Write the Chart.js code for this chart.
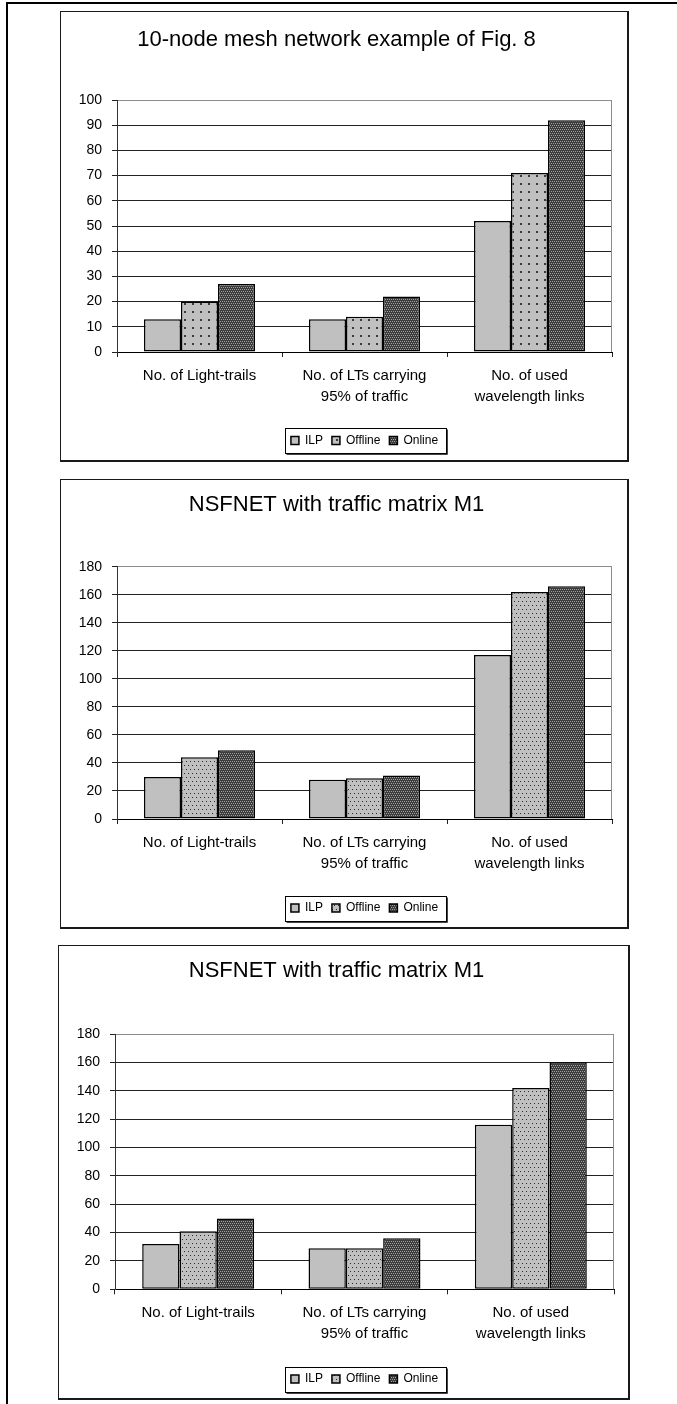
<!DOCTYPE html>
<html>
<head>
<meta charset="utf-8">
<script src="https://cdn.jsdelivr.net/npm/chart.js@4.4.1/dist/chart.umd.min.js"></script>
<style>
  html, body { margin: 0; padding: 0; background: #fff; }
  body { width: 677px; height: 1404px; position: relative; overflow: hidden; }
  .frame-top { position: absolute; left: 6px; top: 2px; width: 671px; height: 2px; background: #000; }
  .frame-left { position: absolute; left: 6px; top: 2px; width: 2px; height: 1402px; background: #000; }
  .box { position: absolute; box-sizing: border-box; border-style: solid; border-color: #1a1a1a; border-width: 1px 2px 2px 1px; background: #fff; }
  .box canvas { display: block; }
</style>
</head>
<body>
<div class="frame-top"></div>
<div class="frame-left"></div>
<div class="box" id="box1"><canvas id="c1"></canvas></div>
<div class="box" id="box2"><canvas id="c2"></canvas></div>
<div class="box" id="box3"><canvas id="c3"></canvas></div>
<script>
// Categories and series
const categories = [
  ["No. of Light-trails"],
  ["No. of LTs carrying", "95% of traffic"],
  ["No. of used", "wavelength links"]
];
const seriesNames = ["ILP", "Offline", "Online"];

// 10-node mesh network
const meshTitle = "10-node mesh network example of Fig. 8";
const meshIlp = [13, 13, 52];
const meshOffline = [20, 14, 71];
const meshOnline = [27, 22, 92];
const meshAxis = [0, 100, 10];

// NSFNET, traffic matrix M1 (first run)
const m1aTitle = "NSFNET with traffic matrix M1";
const m1aIlp = [30, 28, 117];
const m1aOffline = [44, 29, 162];
const m1aOnline = [49, 31, 166];
const m1aAxis = [0, 180, 20];

// NSFNET, traffic matrix M1 (second run)
const m1bTitle = "NSFNET with traffic matrix M1";
const m1bIlp = [32, 29, 116];
const m1bOffline = [41, 29, 142];
const m1bOnline = [50, 36, 160];
const m1bAxis = [0, 180, 20];

const FONT = "'Liberation Sans', Arial, Helvetica, sans-serif";

// Fill textures
function makeTile(w, h, base, dots, dotColor, dotSize) {
  const t = document.createElement('canvas');
  t.width = w; t.height = h;
  const g = t.getContext('2d');
  g.fillStyle = base; g.fillRect(0, 0, w, h);
  g.fillStyle = dotColor;
  dots.forEach(([x, y]) => g.fillRect(x, y, dotSize, dotSize));
  return t;
}
function patterns(ctx, sparse) {
  const offlineTile = sparse
    ? makeTile(8, 8, '#c0c0c0', [[3, 3]], '#3a3a3a', 2)
    : makeTile(8, 8, '#c0c0c0', [[1, 1], [5, 1], [3, 5], [7, 5]], '#2a2a2a', 1);
  const onlineTile = makeTile(4, 4, '#a0a0a0',
    [[0, 0], [1, 0], [2, 0], [3, 0], [0, 1], [2, 1], [0, 2], [1, 2], [2, 2], [3, 2], [1, 3], [3, 3]],
    '#3c3c3c', 1);
  return {
    offline: ctx.createPattern(offlineTile, 'repeat'),
    online: ctx.createPattern(onlineTile, 'repeat')
  };
}

// Frame around the legend entries
const legendFrame = {
  id: 'legendFrame',
  afterDraw(chart) {
    const boxes = chart.legend && chart.legend.legendHitBoxes;
    if (!boxes || !boxes.length) return;
    const first = boxes[0], last = boxes[boxes.length - 1];
    const l = Math.round(first.left - 6) + 0.5;
    const r = Math.round(last.left + last.width + 8) + 0.5;
    const t = Math.round(first.top - 6.5) + 0.5;
    const b = Math.round(first.top + first.height + 6.5) + 0.5;
    const c = chart.ctx;
    c.save();
    c.strokeStyle = '#000';
    c.lineWidth = 1;
    c.strokeRect(l, t, r - l, b - t);
    c.strokeStyle = '#444';
    c.beginPath();
    c.moveTo(l + 1, b + 1); c.lineTo(r + 1, b + 1); c.lineTo(r + 1, t + 1);
    c.stroke();
    c.restore();
  }
};

// Gray right edge of the plot area
const plotFrame = {
  id: 'plotFrame',
  beforeDatasetsDraw(chart) {
    const a = chart.chartArea, c = chart.ctx;
    c.save();
    c.strokeStyle = '#8c8c8c';
    c.lineWidth = 1;
    c.beginPath();
    const x = Math.round(a.right) - 0.5;
    c.moveTo(x, a.top); c.lineTo(x, a.bottom);
    c.stroke();
    c.restore();
  }
};

function build(id, boxId, geo, title, ilp, offline, online, axis, sparse) {
  const box = document.getElementById(boxId);
  box.style.left = geo.L + 'px';
  box.style.top = geo.T + 'px';
  box.style.width = (geo.R - geo.L) + 'px';
  box.style.height = (geo.B - geo.T) + 'px';
  const cw = geo.R - geo.L - 3, ch = geo.B - geo.T - 3;
  const cv = document.getElementById(id);
  cv.width = cw; cv.height = ch;
  cv.style.width = cw + 'px'; cv.style.height = ch + 'px';
  const ctx = cv.getContext('2d');
  const pat = patterns(ctx, sparse);

  const titleSize = 22, titleLH = titleSize * 1.2;
  const titlePadTop = geo.titleY - titleLH / 2;
  const titlePadBottom = geo.plotTop - titlePadTop - titleLH;
  const legPad = 9, legItem = 12;
  const legTop = geo.legendY - legPad - legItem / 2;
  const legBottom = legTop + legItem + legPad + 10;
  const [yMin, yMax, yStep] = axis;

  new Chart(ctx, {
    type: 'bar',
    data: {
      labels: categories,
      datasets: [
        { label: seriesNames[0], data: ilp, backgroundColor: '#c0c0c0' },
        { label: seriesNames[1], data: offline, backgroundColor: pat.offline },
        { label: seriesNames[2], data: online, backgroundColor: pat.online }
      ].map(d => Object.assign(d, {
        borderColor: '#000', borderWidth: 1.5, borderSkipped: false,
        barPercentage: 1, categoryPercentage: 0.673
      }))
    },
    options: {
      responsive: false,
      animation: false,
      devicePixelRatio: 1,
      layout: { padding: { left: 0, top: 0, right: cw - geo.plotRight, bottom: ch - legBottom } },
      plugins: {
        title: {
          display: true, text: title, color: '#000',
          font: { family: FONT, size: titleSize, weight: 'normal', lineHeight: 1.2 },
          padding: { top: titlePadTop, bottom: titlePadBottom }
        },
        legend: {
          position: 'bottom', fullSize: false,
          labels: {
            boxWidth: 8, boxHeight: 8, padding: legPad, color: '#000',
            font: { family: FONT, size: 12 }
          }
        },
        tooltip: { enabled: false }
      },
      scales: {
        x: {
          offset: true,
          grid: { display: true, drawOnChartArea: false, drawTicks: true, tickLength: 5, color: '#222', offset: true },
          border: { display: true, color: '#000', width: 1 },
          ticks: { color: '#000', padding: 8, maxRotation: 0, autoSkip: false,
                   font: { family: FONT, size: 15, lineHeight: 1.4 } },
          afterFit(s) { s.height = legTop - geo.plotBottom; }
        },
        y: {
          min: yMin, max: yMax,
          grid: {
            color: c => (c.tick && c.tick.value === yMax) ? '#8c8c8c' : '#222',
            tickColor: '#222', tickLength: 5, lineWidth: 1
          },
          border: { display: true, color: '#333', width: 1 },
          ticks: { stepSize: yStep, color: '#000', padding: 10,
                   font: { family: FONT, size: 14 } },
          afterFit(s) { s.width = geo.plotLeft; }
        }
      }
    },
    plugins: [legendFrame, plotFrame]
  });
}

// Box outlines (page px) and plot geometry (canvas px)
build('c1', 'box1',
  { L: 60, T: 11, R: 629, B: 462, plotLeft: 56, plotRight: 551, plotTop: 88, plotBottom: 340, titleY: 28, legendY: 428.5 },
  meshTitle, meshIlp, meshOffline, meshOnline, meshAxis, true);
build('c2', 'box2',
  { L: 60, T: 479, R: 629, B: 929, plotLeft: 56, plotRight: 551, plotTop: 86.7, plotBottom: 339, titleY: 25, legendY: 428 },
  m1aTitle, m1aIlp, m1aOffline, m1aOnline, m1aAxis, false);
build('c3', 'box3',
  { L: 58, T: 945, R: 630, B: 1400, plotLeft: 56, plotRight: 555, plotTop: 88, plotBottom: 343.3, titleY: 25, legendY: 433 },
  m1bTitle, m1bIlp, m1bOffline, m1bOnline, m1bAxis, false);
</script>
</body>
</html>
